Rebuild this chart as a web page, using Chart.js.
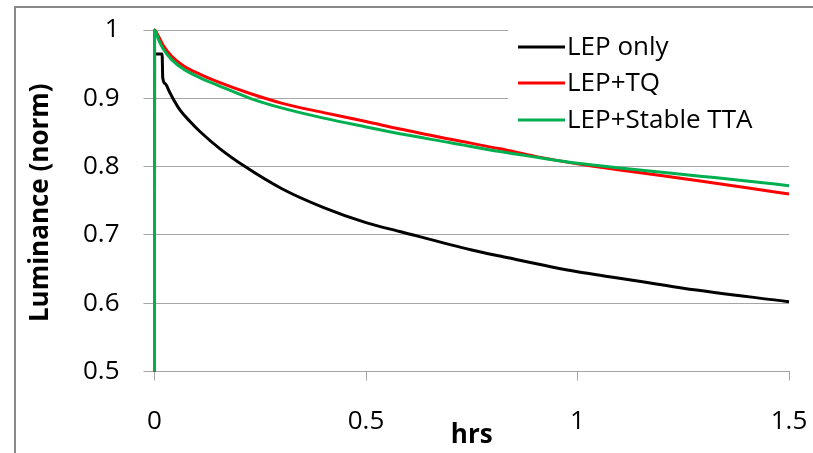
<!DOCTYPE html>
<html>
<head>
<meta charset="utf-8">
<script src="https://cdn.jsdelivr.net/npm/chart.js@4.4.1/dist/chart.umd.min.js"></script>
<style>
  html, body { margin: 0; padding: 0; background: #fff; }
  #wrap { position: relative; width: 813px; height: 453px; overflow: hidden; }
  #frame { position: absolute; left: 14px; top: 6px; width: 830px; height: 470px; border: 2px solid #888; pointer-events: none; }
  canvas { position: absolute; left: 0; top: 0; }
</style>
</head>
<body>
<div id="wrap">
  <canvas id="lumChart" width="813" height="453"></canvas>
  <div id="frame"></div>
</div>
<script>
// time in hours, luminance normalised to the start value
const lepOnlyHrs = [0, 0.0002, 0.018, 0.0195, 0.026, 0.035, 0.046, 0.060, 0.084, 0.108, 0.155, 0.214, 0.300, 0.400, 0.500, 0.580, 0.750, 0.817, 1.000, 1.053, 1.250, 1.500];
const lepOnlyLum = [0.5, 0.965, 0.965, 0.930, 0.921, 0.910, 0.897, 0.883, 0.866, 0.851, 0.826, 0.800, 0.768, 0.740, 0.718, 0.705, 0.678, 0.669, 0.646, 0.641, 0.622, 0.602];

const lepTqHrs = [0, 0.0002, 0.010, 0.020, 0.040, 0.070, 0.108, 0.150, 0.226, 0.300, 0.400, 0.500, 0.580, 0.700, 0.817, 0.900, 1.000, 1.100, 1.290, 1.400, 1.500];
const lepTqLum = [0.5, 1.000, 0.990, 0.978, 0.962, 0.947, 0.935, 0.924, 0.907, 0.893, 0.879, 0.866, 0.855, 0.840, 0.826, 0.815, 0.804, 0.795, 0.779, 0.769, 0.760];

const lepTtaHrs = [0, 0.0002, 0.010, 0.020, 0.040, 0.070, 0.108, 0.150, 0.226, 0.300, 0.400, 0.500, 0.580, 0.700, 0.817, 0.900, 1.000, 1.100, 1.290, 1.400, 1.500];
const lepTtaLum = [0.5, 1.000, 0.985, 0.973, 0.957, 0.942, 0.930, 0.919, 0.900, 0.886, 0.871, 0.858, 0.848, 0.835, 0.822, 0.814, 0.805, 0.798, 0.786, 0.779, 0.772];

const seriesNames = ['LEP only', 'LEP+TQ', 'LEP+Stable TTA'];
const seriesColors = ['#000000', '#ff0000', '#00b050'];
const xTickValues = [0, 0.5, 1, 1.5];
const yTickValues = [0.5, 0.6, 0.7, 0.8, 0.9, 1];

const FONT = "'Open Sans', 'Liberation Sans', sans-serif";
const GRID = '#a6a6a6';

function toPoints(xs, ys) {
    return xs.map(function (x, i) { return { x: x, y: ys[i] }; });
}

function plainNumber(value) {
    return String(Number(value.toFixed(2)));
}

// keep the plot area where the layout padding puts it
function noLabelOverflow(scale) {
    scale.paddingTop = 0;
    scale.paddingBottom = 0;
    scale.paddingLeft = 0;
    scale.paddingRight = 0;
}

// legend box and axis titles drawn straight onto the canvas
const decorations = {
    id: 'decorations',
    afterDraw: function (chart) {
        const ctx = chart.ctx;
        const area = chart.chartArea;
        ctx.save();

        // legend
        ctx.fillStyle = '#ffffff';
        ctx.fillRect(508, area.top - 3, area.right - 508, 140 - area.top);
        const rows = [47, 83, 120];
        ctx.font = '26px ' + FONT;
        ctx.textBaseline = 'middle';
        ctx.textAlign = 'left';
        seriesNames.forEach(function (name, i) {
            ctx.strokeStyle = seriesColors[i];
            ctx.lineWidth = 3;
            ctx.beginPath();
            ctx.moveTo(518, rows[i]);
            ctx.lineTo(565, rows[i]);
            ctx.stroke();
            ctx.fillStyle = '#000000';
            ctx.fillText(name, 567, rows[i] + 1);
        });

        // axis titles
        ctx.font = 'bold 26px ' + FONT;
        ctx.fillStyle = '#000000';
        ctx.textAlign = 'center';
        ctx.textBaseline = 'alphabetic';
        ctx.fillText('hrs', (area.left + area.right) / 2, 443);

        ctx.translate(41, (area.top + area.bottom) / 2 + 2);
        ctx.rotate(-Math.PI / 2);
        ctx.textBaseline = 'middle';
        ctx.fillText('Luminance (norm)', 0, 0);
        ctx.restore();
    }
};

const ctx = document.getElementById('lumChart').getContext('2d');

new Chart(ctx, {
    type: 'line',
    data: {
        datasets: [
            {
                label: seriesNames[0],
                data: toPoints(lepOnlyHrs, lepOnlyLum),
                borderColor: seriesColors[0],
                order: 3
            },
            {
                label: seriesNames[1],
                data: toPoints(lepTqHrs, lepTqLum),
                borderColor: seriesColors[1],
                order: 2
            },
            {
                label: seriesNames[2],
                data: toPoints(lepTtaHrs, lepTtaLum),
                borderColor: seriesColors[2],
                order: 1
            }
        ]
    },
    options: {
        responsive: false,
        devicePixelRatio: 1,
        animation: false,
        layout: {
            padding: { top: 30, right: 24, bottom: 0, left: 0 }
        },
        datasets: {
            line: { clip: 3 }
        },
        elements: {
            line: {
                borderWidth: 3,
                cubicInterpolationMode: 'monotone',
                borderJoinStyle: 'round',
                borderCapStyle: 'butt'
            },
            point: { radius: 0 }
        },
        plugins: {
            legend: { display: false },
            tooltip: { enabled: false }
        },
        scales: {
            x: {
                type: 'linear',
                min: 0,
                max: 1.5,
                afterFit: function (scale) {
                    scale.height = 81.5;
                    noLabelOverflow(scale);
                },
                afterBuildTicks: function (scale) {
                    scale.ticks = xTickValues.map(function (v) { return { value: v }; });
                },
                border: { display: true, color: GRID, width: 1 },
                grid: {
                    drawOnChartArea: false,
                    drawTicks: true,
                    tickLength: 9,
                    color: GRID
                },
                ticks: {
                    color: '#000000',
                    padding: 25,
                    maxRotation: 0,
                    font: { family: FONT, size: 26 },
                    callback: plainNumber
                }
            },
            y: {
                type: 'linear',
                min: 0.5,
                max: 1,
                afterFit: function (scale) {
                    scale.width = 154.5;
                    noLabelOverflow(scale);
                },
                afterBuildTicks: function (scale) {
                    scale.ticks = yTickValues.map(function (v) { return { value: v }; });
                },
                border: { display: false },
                grid: {
                    drawTicks: true,
                    tickLength: 11,
                    color: GRID
                },
                ticks: {
                    color: '#000000',
                    padding: 24,
                    font: { family: FONT, size: 26 },
                    callback: plainNumber
                }
            }
        }
    },
    plugins: [decorations]
});
</script>
</body>
</html>
